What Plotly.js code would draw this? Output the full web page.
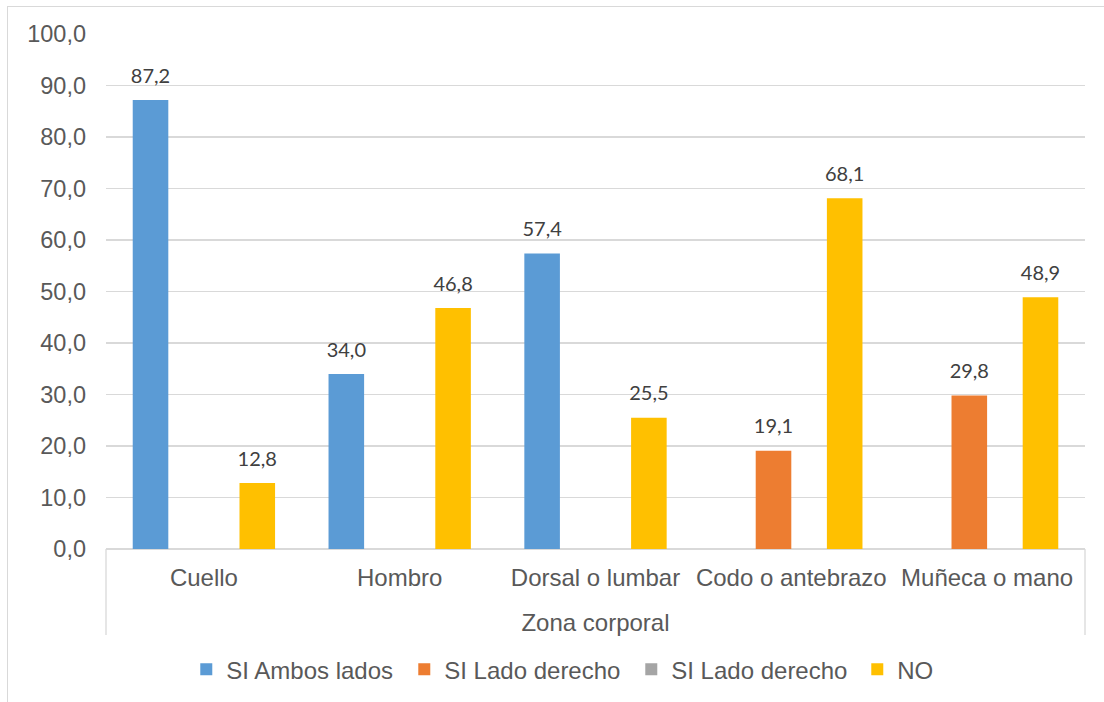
<!DOCTYPE html>
<html>
<head>
<meta charset="utf-8">
<script src="https://cdn.plot.ly/plotly-3.0.1.min.js"></script>
<style>
  html, body { margin: 0; padding: 0; background: #ffffff; }
  #wrap { position: relative; width: 1104px; height: 702px; overflow: hidden; }
  #chart { width: 1104px; height: 702px; }
  /* chart-area frame: only its top and left edges fall inside the page */
  #frame { position: absolute; left: 7px; top: 6px; width: 1200px; height: 800px;
           border-left: 1px solid #d9d9d9; border-top: 1px solid #d9d9d9;
           pointer-events: none; }
</style>
</head>
<body>
<div id="wrap">
  <div id="chart"></div>
  <div id="frame"></div>
</div>
<script>
// Zona corporal (categories)
const zonas = ['Cuello', 'Hombro', 'Dorsal o lumbar', 'Codo o antebrazo', 'Muñeca o mano'];

// Percentages per series (null = no bar)
const siAmbosLados   = [87.2, 34.0, 57.4, null, null];
const siLadoDerecho  = [null, null, null, 19.1, 29.8];
const siLadoDerecho2 = [null, null, null, null, null];
const no             = [12.8, 46.8, 25.5, 68.1, 48.9];

const seriesNames = ['SI Ambos lados', 'SI Lado derecho', 'SI Lado derecho', 'NO'];
const seriesValues = [siAmbosLados, siLadoDerecho, siLadoDerecho2, no];
const seriesColors = ['#5b9bd5', '#ed7d31', '#a5a5a5', '#ffc000'];
// legend entry widths (px) so the entries spread like the chart's key
const legendWidths = [173, 182, 181, 40];

const yTickVals = [0, 10, 20, 30, 40, 50, 60, 70, 80, 90, 100];

const fmt = v => (v === null ? '' : v.toFixed(1).replace('.', ','));

const bars = seriesValues.map((vals, i) => ({
  type: 'bar',
  name: seriesNames[i],
  x: zonas,
  y: vals,
  offsetgroup: 'g' + i,
  legendwidth: legendWidths[i],
  marker: { color: seriesColors[i], line: { width: 0 } },
  hoverinfo: 'x+y+name'
}));

// value labels, grouped the same way as the bars
const labels = seriesValues.map((vals, i) => ({
  type: 'scatter',
  mode: 'markers+text',
  orientation: 'v',
  x: zonas,
  y: vals,
  offsetgroup: 'g' + i,
  text: vals.map(fmt),
  textposition: 'top center',
  textfont: { family: 'Lato, "Open Sans", sans-serif', size: 20, color: '#404040' },
  marker: { size: 18, color: 'rgba(0,0,0,0)' },
  showlegend: false,
  hoverinfo: 'skip',
  cliponaxis: false
}));

const axisFont = { family: '"Liberation Sans", Arial, sans-serif', size: 23.5, color: '#595959' };
const textFont = { family: '"Liberation Sans", Arial, sans-serif', size: 24, color: '#595959' };

const layout = {
  width: 1104,
  height: 702,
  margin: { l: 106, r: 19, t: 34, b: 153 },
  paper_bgcolor: '#ffffff',
  plot_bgcolor: '#ffffff',
  separators: ',.',
  barmode: 'group',
  bargap: 0.273,
  bargroupgap: 0,
  scattermode: 'group',
  scattergap: 0.273,
  font: axisFont,
  showlegend: true,
  legend: {
    orientation: 'h',
    xref: 'paper',
    x: 0.082, xanchor: 'left',
    yref: 'container',
    y: 0.046, yanchor: 'middle',
    font: textFont,
    traceorder: 'normal',
    bgcolor: 'rgba(0,0,0,0)'
  },
  xaxis: {
    type: 'category',
    showgrid: false,
    showline: false,
    zeroline: false,
    ticks: '',
    tickfont: textFont,
    ticklabelstandoff: 12,
    title: {
      text: 'Zona corporal',
      font: textFont,
      standoff: 24
    },
    automargin: false,
    fixedrange: true
  },
  yaxis: {
    range: [0, 100],
    tickvals: yTickVals,
    tickformat: '.1f',
    showgrid: true,
    gridcolor: '#d9d9d9',
    gridwidth: 1.3,
    zeroline: true,
    zerolinecolor: '#d9d9d9',
    zerolinewidth: 1.3,
    showline: false,
    ticks: '',
    tickfont: axisFont,
    ticklabelstandoff: 19,
    automargin: false,
    fixedrange: true
  },
  shapes: [
    // outer edges of the category band below the axis
    { type: 'line', xref: 'paper', yref: 'paper', x0: 0, x1: 0, y0: 0, y1: -0.167,
      line: { color: '#d9d9d9', width: 1.3 } },
    { type: 'line', xref: 'paper', yref: 'paper', x0: 1, x1: 1, y0: 0, y1: -0.167,
      line: { color: '#d9d9d9', width: 1.3 } }
  ]
};

Plotly.newPlot('chart', bars.concat(labels), layout, { displayModeBar: false, staticPlot: true });
</script>
</body>
</html>
